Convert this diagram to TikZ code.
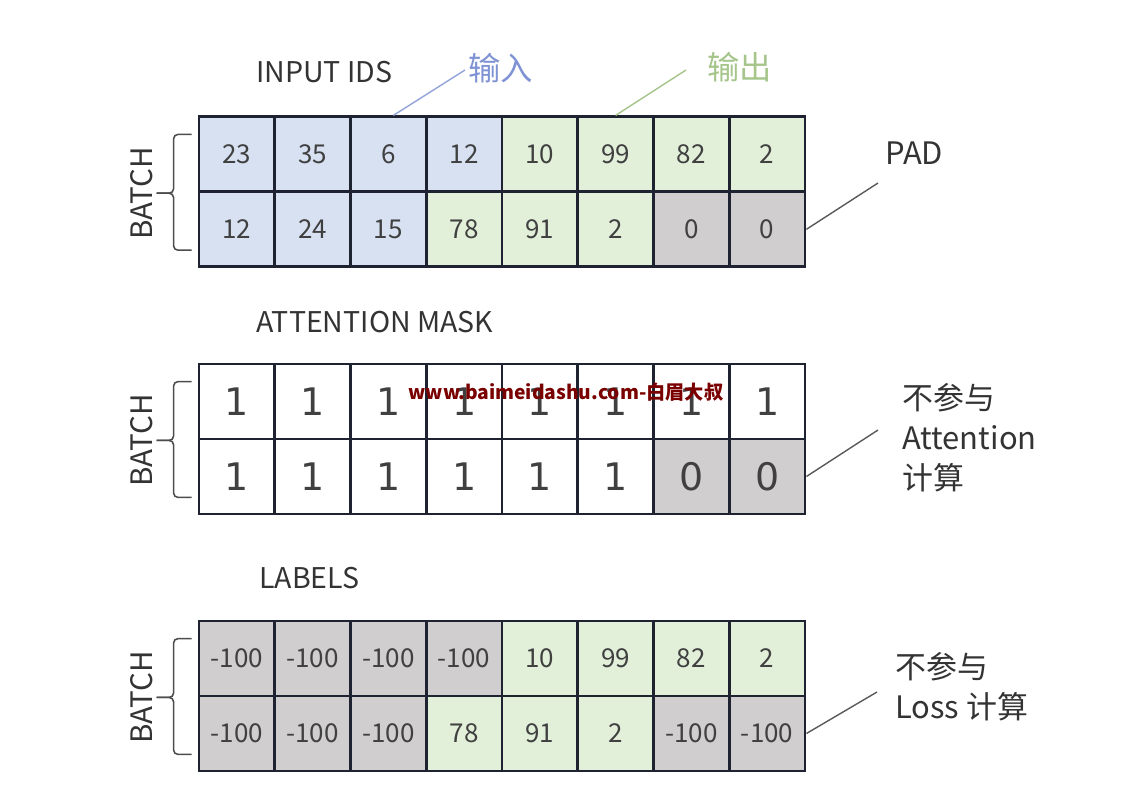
\documentclass[tikz,border=0pt]{standalone}
\usepackage{fontspec}
\setmainfont{Noto Sans CJK SC}
\newfontfamily\digitfont{DejaVu Sans}
\usepackage{tikz}
\usetikzlibrary{positioning}

\definecolor{idblue}{HTML}{D7E1F2}
\definecolor{idgreen}{HTML}{E2EFD9}
\definecolor{idgray}{HTML}{D0CECE}
\definecolor{gridline}{HTML}{1E2231}
\definecolor{inblue}{HTML}{7F93D4}
\definecolor{outgreen}{HTML}{A5C58A}
\definecolor{wmred}{HTML}{7A0000}

\begin{document}
\begin{tikzpicture}[x=0.25mm, y=-0.25mm,
        cell/.style={draw=gridline, line width=2pt, minimum width=18.94mm, minimum height=18.75mm, inner sep=0pt, text=black!75, font=\fontsize{18.5}{20}\selectfont},
        maskcell/.style={cell, font=\digitfont\fontsize{27}{30}\selectfont},
        title/.style={anchor=west, inner sep=0pt, text=black!80, font=\fontsize{20.3}{24}\selectfont},
        batch/.style={rotate=90, inner sep=0pt, text=black!80, font=\fontsize{21}{24}\selectfont},
        brace/.style={draw=black!70, line width=1.1pt, rounded corners=1.1mm},
        note/.style={anchor=west, inner sep=0pt, align=left, text=black!80, font=\fontsize{22}{28.35}\selectfont},
        pointer/.style={draw=black!65, line width=1pt}
    ]
        \useasboundingbox (0,0) rectangle (1134,799);

        % Input ids
        \foreach \v/\f [count=\c] in {23/idblue, 35/idblue, 6/idblue, 12/idblue, 10/idgreen, 99/idgreen, 82/idgreen, 2/idgreen}
            \node[cell, fill=\f] (ids-1-\c) at ({199+75.75*(\c-0.5)}, 154.3) {\v};
        \foreach \v/\f [count=\c] in {12/idblue, 24/idblue, 15/idblue, 78/idgreen, 91/idgreen, 2/idgreen, 0/idgray, 0/idgray}
            \node[cell, fill=\f] (ids-2-\c) at ({199+75.75*(\c-0.5)}, 229.3) {\v};

        % Attention mask
        \foreach \v/\f [count=\c] in {1/white, 1/white, 1/white, 1/white, 1/white, 1/white, 1/white, 1/white}
            \node[maskcell, fill=\f] (mask-1-\c) at ({199+75.75*(\c-0.5)}, 401.5) {\v};
        \foreach \v/\f [count=\c] in {1/white, 1/white, 1/white, 1/white, 1/white, 1/white, 0/idgray, 0/idgray}
            \node[maskcell, fill=\f] (mask-2-\c) at ({199+75.75*(\c-0.5)}, 476.5) {\v};

        % Labels
        \foreach \v/\f [count=\c] in {-100/idgray, -100/idgray, -100/idgray, -100/idgray, 10/idgreen, 99/idgreen, 82/idgreen, 2/idgreen}
            \node[cell, fill=\f] (lab-1-\c) at ({199+75.75*(\c-0.5)}, 658.5) {\v};
        \foreach \v/\f [count=\c] in {-100/idgray, -100/idgray, -100/idgray, 78/idgreen, 91/idgreen, 2/idgreen, -100/idgray, -100/idgray}
            \node[cell, fill=\f] (lab-2-\c) at ({199+75.75*(\c-0.5)}, 733.5) {\v};

        % Titles
        \node[title] (ids-title) at (256,72) {INPUT IDS};
        \node[title] (mask-title) at (256,322) {ATTENTION MASK};
        \node[title] (lab-title) at (259,578) {LABELS};

        % Batch braces
        \foreach \g in {ids, mask, lab} {
            \draw[brace] ([shift={(-6,19)}]\g-1-1.north west) -| ([shift={(-24,0)}]\g-1-1.south west) -- ([shift={(-41,0)}]\g-1-1.south west);
            \draw[brace] ([shift={(-6,-18)}]\g-2-1.south west) -| ([shift={(-24,0)}]\g-1-1.south west) -- ([shift={(-41,0)}]\g-1-1.south west);
            \node[batch] (\g-batch) at ([shift={(-56,0)}]\g-1-1.south west) {BATCH};
        }

        % Notes
        \node[title, text=inblue, font=\fontsize{23}{26}\selectfont] (in-label) at (468,68) {输入};
        \node[title, text=outgreen, font=\fontsize{23}{26}\selectfont] (out-label) at (707,67) {输出};
        \node[note] (pad) at (885,153) {PAD};
        \node[note] (att-note) at (902,438) {不参与\\Attention\\计算};
        \node[note] (loss-note) at (895,687) {不参与\\Loss 计算};

        % Pointers
        \draw[pointer, draw=inblue!85] ([shift={(-3,2)}]in-label.west) -- ([shift={(5,0)}]ids-1-3.north);
        \draw[pointer, draw=outgreen] ([shift={(-21,3)}]out-label.west) -- (ids-1-6.north);
        \draw[pointer] ([shift={(-7,30)}]pad.west) -- (ids-2-8.east);
        \draw[pointer] ([shift={(-24,-8)}]att-note.west) -- (mask-2-8.east);
        \draw[pointer] ([shift={(-18,5)}]loss-note.west) -- (lab-2-8.east);

        % Watermark
        \node[inner sep=0pt, text=wmred, font=\bfseries\fontsize{13.7}{16}\selectfont] (watermark) at (566,392) {www.baimeidashu.com-白眉大叔};
    \end{tikzpicture}
\end{document}
